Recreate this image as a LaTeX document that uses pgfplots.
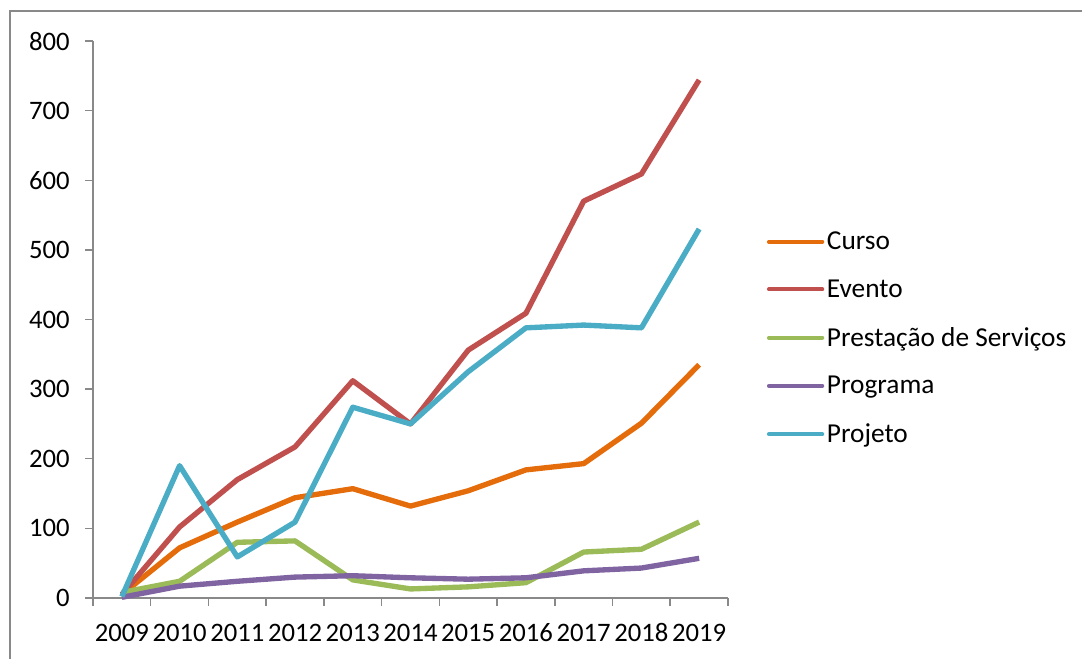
\documentclass[border=0pt]{standalone}
\usepackage{pgfplots}
\pgfplotsset{compat=1.18}
\usepackage{fontspec}
\setmainfont{Carlito}
\definecolor{cCurso}{HTML}{E46C0A}
\definecolor{cEvento}{HTML}{C0504D}
\definecolor{cPrest}{HTML}{9BBB59}
\definecolor{cProg}{HTML}{8064A2}
\definecolor{cProj}{HTML}{4BACC6}
\definecolor{axgray}{HTML}{898989}
\begin{document}
\begin{tikzpicture}
\useasboundingbox (0,0) rectangle (811.5pt,494.25pt);
\draw[axgray, line width=1.1pt] (7.5pt,-5pt) -- (7.5pt,486pt) -- (820pt,486pt);
\begin{axis}[
  at={(69.75pt,45.75pt)}, anchor=origin,
  scale only axis, width=476.25pt, height=417.75pt,
  xmin=2008.5, xmax=2019.5, ymin=0, ymax=800,
  axis x line*=bottom, axis y line*=left,
  axis line style={axgray, line width=1.1pt, -},
  every tick/.style={axgray, line width=1.1pt},
  tick align=outside,
  ytick={0,100,...,800},
  major tick length=6pt,
  xtick={2008.5,2009.5,...,2019.5},
  xticklabels={},
  extra x ticks={2009,2010,...,2019},
  extra x tick style={major tick length=0pt, xticklabel style={anchor=base, yshift=-32.5pt}},
  extra x tick labels={2009,2010,2011,2012,2013,2014,2015,2016,2017,2018,2019},
  /pgf/number format/assume math mode=true,
  /pgf/number format/1000 sep={},
  ticklabel style={font=\fontsize{20}{23}\selectfont, text=black},
  yticklabel style={xshift=-8pt},
  legend style={at={(1,0.5)}, anchor=west, xshift=29pt, yshift=-14pt, draw=none, fill=none,
    font=\fontsize{20.5}{23}\selectfont, row sep=17pt, inner sep=0pt,
    /tikz/every even column/.append style={column sep=0pt}},
  legend cell align=left,
  legend image code/.code={\draw[#1, line width=3pt, line cap=round] (0pt,0pt) -- (40pt,0pt);},
  every axis plot/.append style={line width=4pt, line join=round, mark=none},
  clip=false,
]
\addplot[cCurso] coordinates {(2009,5) (2010,72) (2011,109) (2012,144) (2013,157) (2014,132) (2015,154) (2016,184) (2017,193) (2018,251) (2019,335)};
\addlegendentry{Curso}
\addplot[cEvento] coordinates {(2009,5) (2010,102) (2011,170) (2012,217) (2013,312) (2014,250) (2015,356) (2016,409) (2017,570) (2018,609) (2019,744)};
\addlegendentry{Evento}
\addplot[cPrest] coordinates {(2009,8) (2010,24) (2011,80) (2012,82) (2013,26) (2014,13) (2015,16) (2016,22) (2017,66) (2018,70) (2019,109)};
\addlegendentry{Prestação de Serviços}
\addplot[cProg] coordinates {(2009,1) (2010,17) (2011,24) (2012,30) (2013,32) (2014,29) (2015,27) (2016,29) (2017,39) (2018,43) (2019,57)};
\addlegendentry{Programa}
\addplot[cProj] coordinates {(2009,2) (2010,190) (2011,59) (2012,109) (2013,274) (2014,250) (2015,325) (2016,388) (2017,392) (2018,388) (2019,530)};
\addlegendentry{Projeto}
\end{axis}
\end{tikzpicture}
\end{document}
